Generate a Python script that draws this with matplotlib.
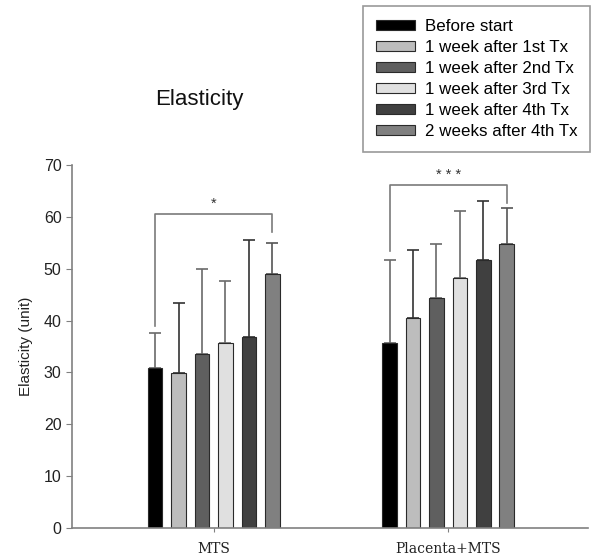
import matplotlib
matplotlib.use("Agg")
import matplotlib.pyplot as plt
import numpy as np

plt.rcParams['font.family'] = ['Liberation Sans', 'DejaVu Sans']

groups = ["MTS", "Placenta+MTS"]
series = ["Before start", "1 week after 1st Tx", "1 week after 2nd Tx",
          "1 week after 3rd Tx", "1 week after 4th Tx", "2 weeks after 4th Tx"]
means = {
    "MTS":          [30.8, 29.8, 33.5, 35.6, 36.8, 49.0],
    "Placenta+MTS": [35.6, 40.4, 44.4, 48.2, 51.6, 54.7],
}
errors = {
    "MTS":          [6.8, 13.6, 16.4, 12.1, 18.8, 6.0],
    "Placenta+MTS": [16.0, 13.3, 10.4, 12.9, 11.5, 7.1],
}
colors = ["#000000", "#bdbdbd", "#5f5f5f", "#e0e0e0", "#404040", "#808080"]
err_colors = ["#6a6a6a", "#333333", "#6a6a6a", "#6a6a6a", "#333333", "#555555"]

# significance brackets: (group, y_top, left_bottom, right_bottom, label)
brackets = [("MTS", 60.6, 39.0, 57.1, "*"),
            ("Placenta+MTS", 66.2, 53.4, 62.6, "* * *")]

fig = plt.figure(figsize=(5.92, 5.55), dpi=100)
ax = fig.add_axes([72/592, 1-528/555, (588-72)/592, (528-165)/555])

x = np.arange(len(groups))
step = 0.1
width = 0.062
for i, s in enumerate(series):
    xs = x + (i - 2.5) * step
    vals = [means[g][i] for g in groups]
    errs = [errors[g][i] for g in groups]
    ax.bar(xs, vals, width, color=colors[i], edgecolor="#2a2a2a", linewidth=0.8,
           label=s, zorder=2)
    ax.errorbar(xs, vals, yerr=[np.zeros(len(errs)), errs], fmt="none",
                ecolor=err_colors[i], elinewidth=1.2, capsize=4.5, capthick=1.2,
                zorder=1)

for g, ytop, lb, rb, lab in brackets:
    gi = groups.index(g)
    xl = gi - 2.5 * step
    xr = gi + 2.5 * step
    ax.plot([xl, xl, xr, xr], [lb, ytop, ytop, rb], color="#7a7a7a", lw=1.2,
            clip_on=False, zorder=3)
    ax.text(gi, ytop + 0.6, lab, ha="center", va="bottom", fontsize=10.5,
            color="#333333")

ax.set_xlim(-0.605, 1.597)
ax.set_ylim(0, 70)
ax.set_yticks(range(0, 71, 10))
ax.set_xticks(x)
ax.set_xticklabels(groups, family="DejaVu Serif", fontsize=10, color="#222222")
ax.tick_params(axis="x", length=3, color="#808080", pad=7)
ax.tick_params(axis="y", length=4, color="#808080", labelsize=11.5, labelcolor="#222222")
ax.set_ylabel("Elasticity (unit)", fontsize=11, color="#222222", labelpad=8)
for sp in ["top", "right"]:
    ax.spines[sp].set_visible(False)
for sp in ["left", "bottom"]:
    ax.spines[sp].set_color("#808080")
    ax.spines[sp].set_linewidth(1.2)

fig.text(199/592, 1-100/555, "Elasticity", ha="center", va="center", fontsize=16,
         color="#111111")

h, l = ax.get_legend_handles_labels()
leg = fig.legend(h, l, loc="upper right", bbox_to_anchor=(590/592, 1-6/555),
                 fontsize=12.2, frameon=True, fancybox=False, edgecolor="#808080",
                 handlelength=2.35, handleheight=0.5, borderpad=0.75,
                 labelspacing=0.36, handletextpad=0.55, borderaxespad=0)
leg.get_frame().set_linewidth(1.2)

fig.savefig("out.png", dpi=100)
